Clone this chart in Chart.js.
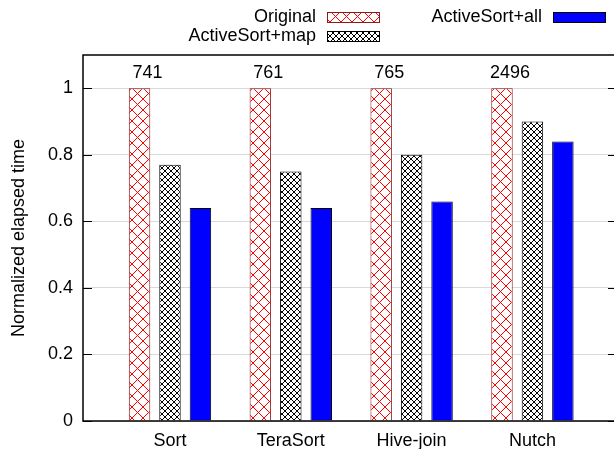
<!DOCTYPE html>
<html>
<head>
<meta charset="utf-8">
<script src="https://cdn.jsdelivr.net/npm/chart.js@4/dist/chart.umd.min.js"></script>
<style>
  html, body { margin: 0; padding: 0; overflow: hidden; background: #fff; }
  #wrap { width: 640px; height: 449px; }
</style>
</head>
<body>
<div id="wrap"><canvas id="chart" width="640" height="449"></canvas></div>
<script>
// data
const categories = ['Sort', 'TeraSort', 'Hive-join', 'Nutch'];
const seriesNames = ['Original', 'ActiveSort+map', 'ActiveSort+all'];
const original = [1, 1, 1, 1];
const activeSortMap = [0.77, 0.75, 0.80, 0.90];
const activeSortAll = [0.64, 0.64, 0.66, 0.84];
const absoluteLabels = ['741', '761', '765', '2496'];
const yTicks = [0, 0.2, 0.4, 0.6, 0.8, 1];

const FONT = '"Liberation Sans", Arial, Helvetica, sans-serif';
Chart.defaults.font.family = FONT;
Chart.defaults.font.size = 18;
Chart.defaults.color = '#000';

// crosshatch fill like gnuplot's pattern fills
const makeHatch = (size, color) => {
    const c = document.createElement('canvas');
    c.width = size;
    c.height = size;
    const g = c.getContext('2d');
    g.fillStyle = '#fff';
    g.fillRect(0, 0, size, size);
    g.strokeStyle = color;
    g.lineWidth = 1;
    g.beginPath();
    for (const k of [-size, 0, size]) {
        g.moveTo(k, 0); g.lineTo(k + size, size);
        g.moveTo(k + size, 0); g.lineTo(k, size);
    }
    g.stroke();
    return document.getElementById('chart').getContext('2d').createPattern(c, 'repeat');
};

const redHatch = makeHatch(11, '#ff0000');
const blackHatch = makeHatch(6, '#000000');

const toPoints = (arr) => arr.map((v, i) => ({ x: i, y: v }));

// frame + inward tick marks
const framePlugin = {
    id: 'frame',
    afterDraw(chart) {
        const { ctx, chartArea: a, scales } = chart;
        ctx.save();
        ctx.strokeStyle = '#000';
        ctx.lineWidth = 1;
        scales.y.ticks.forEach(t => {
            const y = Math.round(scales.y.getPixelForValue(t.value)) + 0.5;
            ctx.beginPath();
            ctx.moveTo(a.left, y); ctx.lineTo(a.left + 9, y);
            ctx.moveTo(a.right - 9, y); ctx.lineTo(a.right, y);
            ctx.stroke();
        });
        ctx.lineWidth = 1.5;
        ctx.strokeRect(a.left, a.top, a.right - a.left, a.bottom - a.top);
        ctx.restore();
    }
};

// absolute times above the Original bars
const valueLabels = {
    id: 'valueLabels',
    afterDatasetsDraw(chart) {
        const { ctx } = chart;
        const meta = chart.getDatasetMeta(0);
        ctx.save();
        ctx.font = '18px ' + FONT;
        ctx.fillStyle = '#000';
        ctx.textAlign = 'center';
        ctx.textBaseline = 'middle';
        meta.data.forEach((el, i) => {
            ctx.fillText(absoluteLabels[i], el.x + 8, el.y - 15);
        });
        ctx.restore();
    }
};

// gnuplot style key, top outside, two columns
const keyPlugin = {
    id: 'key',
    afterDraw(chart) {
        const { ctx } = chart;
        const ds = chart.data.datasets;
        const items = [
            { i: 0, textRight: 316, sx: 327, y: 17 },
            { i: 1, textRight: 316, sx: 327, y: 36 },
            { i: 2, textRight: 542, sx: 553, y: 17 }
        ];
        ctx.save();
        ctx.font = '18px ' + FONT;
        ctx.textAlign = 'right';
        ctx.textBaseline = 'middle';
        items.forEach(it => {
            const d = ds[it.i];
            ctx.fillStyle = '#000';
            ctx.fillText(d.label, it.textRight, it.y);
            ctx.fillStyle = d.backgroundColor;
            ctx.fillRect(it.sx, it.y - 5, 52, 10);
            ctx.strokeStyle = d.borderColor;
            ctx.lineWidth = 1;
            ctx.strokeRect(it.sx + 0.5, it.y - 5 + 0.5, 52, 10);
        });
        ctx.restore();
    }
};

new Chart(document.getElementById('chart'), {
    type: 'bar',
    data: {
        datasets: [
            {
                label: seriesNames[0],
                data: toPoints(original),
                backgroundColor: redHatch,
                borderColor: '#8b1a1a',
                borderWidth: 1
            },
            {
                label: seriesNames[1],
                data: toPoints(activeSortMap),
                backgroundColor: blackHatch,
                borderColor: '#000',
                borderWidth: 1
            },
            {
                label: seriesNames[2],
                data: toPoints(activeSortAll),
                backgroundColor: '#0000ff',
                borderColor: '#000',
                borderWidth: 1
            }
        ]
    },
    options: {
        responsive: false,
        animation: false,
        devicePixelRatio: 1,
        categoryPercentage: 0.756,
        barPercentage: 0.705,
        layout: { padding: { top: 55, right: 23, left: 0, bottom: 0 } },
        plugins: {
            legend: { display: false },
            tooltip: { enabled: false }
        },
        scales: {
            x: {
                type: 'linear',
                offset: false,
                min: -0.72,
                max: 3.7,
                afterBuildTicks: (s) => { s.ticks = categories.map((c, i) => ({ value: i })); },
                afterFit: (s) => { s.height = 28; },
                grid: { display: false, offset: false },
                border: { display: false },
                ticks: {
                    padding: 1,
                    autoSkip: false,
                    maxRotation: 0,
                    callback: (v) => categories[v]
                }
            },
            y: {
                min: 0,
                max: 1.1,
                afterBuildTicks: (s) => { s.ticks = yTicks.map(v => ({ value: v })); },
                afterFit: (s) => { s.width = 83; },
                grid: { color: '#d9d9d9', lineWidth: 1, drawTicks: false },
                border: { display: false },
                ticks: {
                    padding: 10,
                    callback: (v) => String(Math.round(v * 10) / 10)
                },
                title: {
                    display: true,
                    text: 'Normalized elapsed time',
                    padding: { top: 8, bottom: 0 }
                }
            }
        }
    },
    plugins: [framePlugin, valueLabels, keyPlugin]
});
</script>
</body>
</html>
